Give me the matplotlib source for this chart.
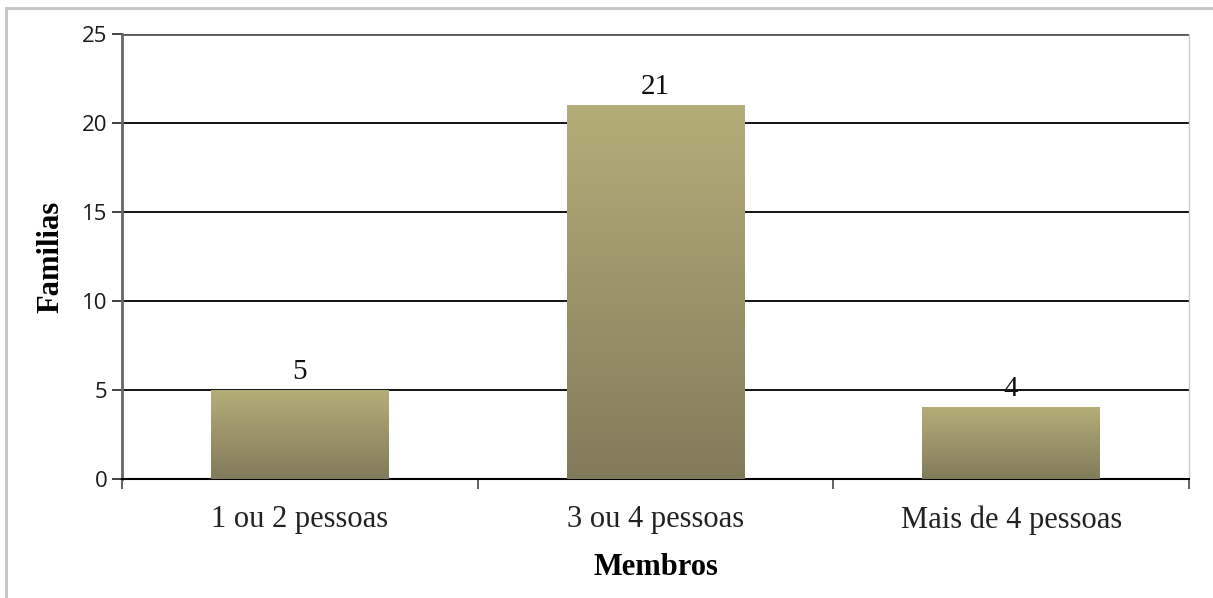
import matplotlib.pyplot as plt
import numpy as np
from matplotlib.colors import LinearSegmentedColormap
from matplotlib.lines import Line2D

categories = ['1 ou 2 pessoas', '3 ou 4 pessoas', 'Mais de 4 pessoas']
familias = [5, 21, 4]
yticks = [0, 5, 10, 15, 20, 25]

serif = 'Liberation Serif'
sans = 'Open Sans'

fig = plt.figure(figsize=(12.13, 5.98), dpi=100)
ax = fig.add_axes([0.1006, 0.199, 0.8796, 0.7441])

# olive bars shaded from light top to dark bottom
olive = LinearSegmentedColormap.from_list('olive', ['#827b5b', '#b5ad78'])
grad = np.linspace(0, 1, 256).reshape(-1, 1)
width = 0.5
x = np.arange(len(categories))
bars = ax.bar(x, familias, width=width, color='none', zorder=3)
for b, v in zip(bars, familias):
    x0 = b.get_x()
    ax.imshow(grad, cmap=olive, origin='lower', aspect='auto',
              extent=[x0, x0 + b.get_width(), 0, v], zorder=3)
    ax.text(b.get_x() + b.get_width() / 2, v + 0.3, str(v), ha='center',
            va='bottom', fontsize=21, family=serif, color='#111111', zorder=4)

ax.set_xlim(-0.5, 2.5)
ax.set_ylim(0, 25)

# horizontal gridlines
for t in yticks[1:-1]:
    ax.axhline(t, color='black', lw=1.3, zorder=1)
ax.axhline(25, color='#555555', lw=2, zorder=1)

ax.spines['top'].set_visible(False)
ax.spines['right'].set_color('#cccccc')
ax.spines['right'].set_linewidth(1)
ax.spines['left'].set_color('#666666')
ax.spines['left'].set_linewidth(2)
ax.spines['bottom'].set_color('black')
ax.spines['bottom'].set_linewidth(1.5)

ax.set_yticks(yticks)
ax.set_yticklabels([str(t) for t in yticks], family=sans, fontsize=16,
                   color='#1a1a1a')
ax.tick_params(axis='y', length=7.5, width=1.3, color='#333333', pad=3)

ax.set_xticks(x)
ax.set_xticklabels(categories, family=serif, fontsize=22, color='#222222')
ax.set_xticks([-0.5, 0.5, 1.5, 2.5], minor=True)
ax.tick_params(axis='x', which='major', length=0, pad=19)
ax.tick_params(axis='x', which='minor', length=7.5, width=1.3, color='#555555')

ax.set_xlabel('Membros', family=serif, fontsize=22, fontweight='bold',
              labelpad=13)
ax.set_ylabel('Familias', family=serif, fontsize=22, fontweight='bold',
              labelpad=12)

# light frame around the chart area
fig.add_artist(Line2D([6 / 1213, 6 / 1213], [0, 1 - 8 / 598],
                      color='#c4c4c4', lw=2, transform=fig.transFigure))
fig.add_artist(Line2D([6 / 1213, 1], [1 - 8 / 598, 1 - 8 / 598],
                      color='#c4c4c4', lw=2, transform=fig.transFigure))

fig.savefig('out.png', dpi=100)
